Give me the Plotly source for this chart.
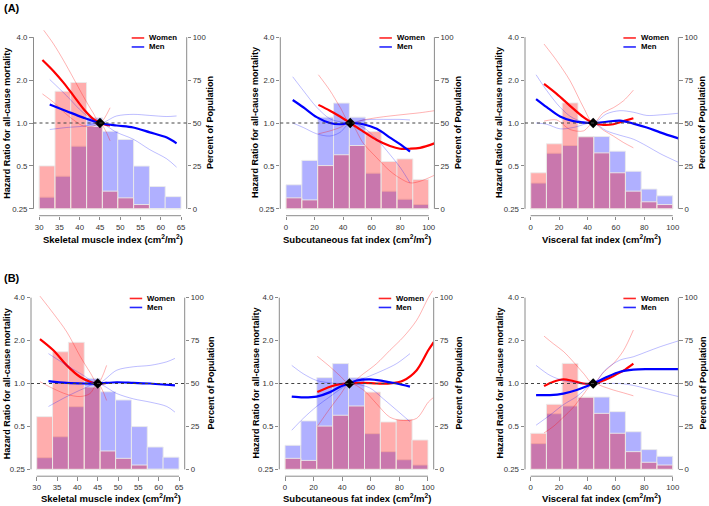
import plotly.graph_objects as go

W, H = 709, 506
FONT = "Liberation Sans, Arial, sans-serif"

# ---------------- data ----------------
SMI_EDGES = [30, 33.9, 37.8, 41.7, 45.6, 49.4, 53.3, 57.2, 61.1, 65]
FAT_EDGES = [0, 11.1, 22.2, 33.3, 44.4, 55.6, 66.7, 77.8, 88.9, 100]

SMI_WOMEN_PCT_A = [25, 68.5, 73.6, 48, 10.3, 6.4, 2.5, 0, 0]
SMI_WOMEN_PCT_B = [30.7, 68.5, 74, 48, 10.7, 6.4, 2.5, 0, 0]
SMI_MEN_PCT = [6.8, 19, 36.5, 53, 45.2, 40.4, 24.9, 13, 7.1]
SFI_WOMEN_PCT = [6.4, 5.2, 25.2, 31.5, 36.9, 45, 27.6, 29.1, 17.1]
SFI_MEN_PCT = [14, 28.2, 53.4, 61.6, 53.4, 20.8, 10.3, 5.6, 2.5]
VFI_WOMEN_PCT = [21, 37.9, 61.7, 42, 32.6, 21, 10.3, 4.1, 2.5]
VFI_MEN_PCT = [15, 32.4, 36.9, 42, 42.1, 33.6, 21.9, 11.5, 7.6]

REF_VALUES = [45, 45, 44]

# (A) Skeletal muscle index
A1_W_X = [30.8, 33.5, 36, 38.5, 41, 43.3, 45, 47.5]
A1_W_HR = [2.77, 2.32, 1.92, 1.55, 1.25, 1.07, 1.0, 0.96]
A1_W_HI = [4.6, 3.6, 2.75, 2.05, 1.52, 1.18, 1.0, 1.28]
A1_W_LO = [1.6, 1.4, 1.2, 1.05, 0.95, 0.95, 1.0, 0.75]
A1_M_X = [32.6, 36.8, 40.9, 45, 49.1, 53.2, 57.3, 61.5, 63.9]
A1_M_HR = [1.35, 1.21, 1.09, 1.0, 0.96, 0.93, 0.86, 0.79, 0.72]
A1_M_HI = [2.02, 1.55, 1.18, 1.0, 1.12, 1.15, 1.13, 1.11, 1.12]
A1_M_LO = [0.90, 0.93, 0.95, 1.0, 0.86, 0.77, 0.65, 0.56, 0.49]

# (A) Subcutaneous fat index
A2_W_X = [22.7, 30.8, 37.9, 45, 54.2, 63.6, 72.9, 79.9, 86.9, 93.9, 104]
A2_W_HR = [1.34, 1.22, 1.11, 1.0, 0.87, 0.76, 0.69, 0.66, 0.66, 0.67, 0.72]
A2_W_HI = [2.18, 1.69, 1.29, 1.0, 1.05, 1.09, 1.12, 1.14, 1.16, 1.18, 1.22]
A2_W_LO = [0.84, 0.88, 0.93, 1.0, 0.72, 0.57, 0.46, 0.41, 0.38, 0.39, 0.43]
A2_M_X = [4.7, 12.1, 21.5, 30.8, 37.9, 45, 54.2, 63.6, 72.9, 79.9, 86.9]
A2_M_HR = [1.45, 1.29, 1.10, 1.0, 0.98, 1.0, 0.98, 0.91, 0.79, 0.71, 0.63]
A2_M_HI = [2.11, 1.69, 1.29, 1.07, 1.02, 1.0, 1.05, 1.06, 1.06, 1.06, 1.05]
A2_M_LO = [1.0, 0.93, 0.84, 0.81, 0.86, 1.0, 0.93, 0.77, 0.60, 0.49, 0.38]

# (A) Visceral fat index
A3_W_X = [9.4, 18.3, 27.7, 37.1, 44, 51.2, 58.2, 65.3, 72.3]
A3_W_HR = [1.88, 1.6, 1.32, 1.10, 1.0, 0.97, 0.98, 1.03, 1.08]
A3_W_HI = [3.58, 2.74, 1.98, 1.29, 1.0, 1.18, 1.28, 1.43, 1.70]
A3_W_LO = [1.03, 1.05, 0.90, 0.88, 1.0, 0.89, 0.81, 0.73, 0.67]
A3_M_X = [3.8, 11.3, 20.7, 30, 44, 53.5, 62.9, 72.3, 81.7, 91.1, 104]
A3_M_HR = [1.47, 1.29, 1.11, 1.03, 1.0, 1.02, 1.04, 0.99, 0.93, 0.86, 0.78]
A3_M_HI = [2.18, 1.69, 1.29, 1.08, 1.0, 1.16, 1.22, 1.19, 1.13, 1.14, 1.17]
A3_M_LO = [1.0, 0.98, 0.91, 0.93, 1.0, 0.88, 0.82, 0.77, 0.69, 0.61, 0.53]

# (B) Skeletal muscle index
B1_W_X = [30.8, 34.1, 37.4, 40.7, 43.1, 45, 47.2]
B1_W_HR = [2.05, 1.71, 1.34, 1.11, 1.03, 1.0, 1.01]
B1_W_HI = [4.1, 3.1, 2.3, 1.55, 1.2, 1.0, 1.34]
B1_W_LO = [1.03, 0.92, 0.84, 0.81, 0.85, 1.0, 0.76]
B1_M_X = [32.9, 37.4, 41.5, 45, 49.7, 53.8, 57.9, 62, 64]
B1_M_HR = [1.04, 1.01, 1.0, 1.0, 1.02, 1.01, 1.0, 0.98, 0.97]
B1_M_HI = [1.62, 1.34, 1.14, 1.0, 1.24, 1.31, 1.34, 1.42, 1.5]
B1_M_LO = [0.69, 0.81, 0.92, 1.0, 0.85, 0.78, 0.74, 0.69, 0.63]

# (B) Subcutaneous fat index
B2_W_X = [22.6, 31.5, 38.5, 45, 54.8, 64.1, 73.4, 82.8, 92.1, 100.2, 104]
B2_W_HR = [0.87, 0.95, 0.99, 1.0, 1.01, 1.0, 1.0, 1.05, 1.24, 1.71, 1.95]
B2_W_HI = [1.55, 1.31, 1.13, 1.0, 1.17, 1.38, 1.71, 2.12, 2.78, 3.99, 4.6]
B2_W_LO = [0.50, 0.67, 0.83, 1.0, 0.90, 0.72, 0.58, 0.55, 0.57, 0.74, 0.8]
B2_M_X = [4.7, 12.8, 22.1, 31.5, 38.5, 45, 50.1, 59.4, 68.8, 78.1, 87.4]
B2_M_HR = [0.81, 0.80, 0.81, 0.87, 0.95, 1.0, 1.05, 1.07, 1.04, 1.0, 0.95]
B2_M_HI = [1.34, 1.17, 1.05, 1.01, 1.0, 1.0, 1.04, 1.13, 1.24, 1.38, 1.62]
B2_M_LO = [0.47, 0.57, 0.69, 0.81, 0.91, 1.0, 0.99, 0.93, 0.78, 0.65, 0.54]

# (B) Visceral fat index
B3_W_X = [9.4, 16, 23, 30, 37.1, 44, 51.2, 58.2, 65.3, 72.3]
B3_W_HR = [0.96, 1.03, 1.07, 1.04, 1.0, 1.0, 1.05, 1.13, 1.23, 1.38]
B3_W_HI = [2.15, 1.9, 1.68, 1.42, 1.18, 1.0, 1.2, 1.38, 1.7, 2.37]
B3_W_LO = [0.45, 0.5, 0.58, 0.68, 0.84, 1.0, 0.95, 0.9, 0.86, 0.82]
B3_M_X = [3.8, 13.6, 23, 32.4, 44, 53.5, 62.9, 72.3, 81.7, 91.1, 104]
B3_M_HR = [0.83, 0.83, 0.85, 0.90, 1.0, 1.11, 1.21, 1.25, 1.26, 1.26, 1.26]
B3_M_HI = [1.34, 1.14, 1.05, 1.01, 1.0, 1.27, 1.46, 1.54, 1.67, 1.81, 1.99]
B3_M_LO = [0.51, 0.6, 0.71, 0.81, 1.0, 1.0, 1.0, 0.97, 0.92, 0.87, 0.81]

HR_TICKS = [0.25, 0.5, 1, 2, 4]
HR_TICK_TEXT = ["0.25", "0.5", "1.0", "2.0", "4.0"]
PCT_TICKS = [0, 25, 50, 75, 100]
SMI_TICKS = [30, 35, 40, 45, 50, 55, 60, 65]
FAT_TICKS = [0, 20, 40, 60, 80, 100]
X_TITLES = ["Skeletal muscle index (cm<sup>2</sup>/m<sup>2</sup>)",
            "Subcutaneous fat index (cm<sup>2</sup>/m<sup>2</sup>)",
            "Visceral fat index (cm<sup>2</sup>/m<sup>2</sup>)"]

# ---------------- layout geometry (pixels) ----------------
ROW_BOX = {"A": (30.3, 215.7), "B": (290.8, 476.2)}
COL_BOX = {
    "A": [(33.5, 186.7), (280.3, 434.4), (525.0, 678.4)],
    "B": [(31.0, 184.7), (279.3, 433.7), (525.0, 678.4)],
}
HR_TITLE_X = [6.7, 255, 499]
PCT_TITLE_X = [210, 458, 702]
XTITLE_Y = {"A": 239, "B": 498}
PANEL_LABEL_Y = {"A": 7.5, "B": 278}

panels = [
    ("A", 0, SMI_EDGES, SMI_WOMEN_PCT_A, SMI_MEN_PCT, (A1_W_X, A1_W_HR, A1_W_HI, A1_W_LO), (A1_M_X, A1_M_HR, A1_M_HI, A1_M_LO)),
    ("A", 1, FAT_EDGES, SFI_WOMEN_PCT, SFI_MEN_PCT, (A2_W_X, A2_W_HR, A2_W_HI, A2_W_LO), (A2_M_X, A2_M_HR, A2_M_HI, A2_M_LO)),
    ("A", 2, FAT_EDGES, VFI_WOMEN_PCT, VFI_MEN_PCT, (A3_W_X, A3_W_HR, A3_W_HI, A3_W_LO), (A3_M_X, A3_M_HR, A3_M_HI, A3_M_LO)),
    ("B", 0, SMI_EDGES, SMI_WOMEN_PCT_B, SMI_MEN_PCT, (B1_W_X, B1_W_HR, B1_W_HI, B1_W_LO), (B1_M_X, B1_M_HR, B1_M_HI, B1_M_LO)),
    ("B", 1, FAT_EDGES, SFI_WOMEN_PCT, SFI_MEN_PCT, (B2_W_X, B2_W_HR, B2_W_HI, B2_W_LO), (B2_M_X, B2_M_HR, B2_M_HI, B2_M_LO)),
    ("B", 2, FAT_EDGES, VFI_WOMEN_PCT, VFI_MEN_PCT, (B3_W_X, B3_W_HR, B3_W_HI, B3_W_LO), (B3_M_X, B3_M_HR, B3_M_HI, B3_M_LO)),
]

WOMEN_FILL = "rgba(255,0,0,0.32)"
MEN_FILL = "rgba(0,0,255,0.31)"
BAR_EDGE = "rgba(235,235,235,0.9)"
AX_COL = "#8a8a8a"
TICK_FONT = dict(family=FONT, size=7.8, color="#333333")

L10_16 = 1.2041199826559248
HR_RANGE = [-0.6020599913 - 0.04 * L10_16, 0.6020599913 + 0.04 * L10_16]


def ax_id(letter, n):
    return letter if n == 1 else f"{letter}{n}"


def ax_key(letter, n):
    return f"{letter}axis" if n == 1 else f"{letter}axis{n}"


fig = go.Figure()
shapes, annotations = [], []
layout = {}

for i, (row, col, edges, women, men, wcurve, mcurve) in enumerate(panels, start=1):
    x0p, x1p = COL_BOX[row][col]
    y0p, y1p = ROW_BOX[row]
    xmin, xmax = edges[0], edges[-1]
    pad = 0.04 * (xmax - xmin)
    xa = ax_id("x", i)
    yb = ax_id("y", 2 * i - 1)   # percent (base)
    yh = ax_id("y", 2 * i)       # hazard ratio (overlay, log)
    ticks_x = SMI_TICKS if col == 0 else FAT_TICKS

    layout[ax_key("x", i)] = dict(
        domain=[x0p / W, x1p / W], range=[xmin - pad, xmax + pad], anchor=yb,
        tickvals=ticks_x, ticks="outside", ticklen=3.5, tickcolor=AX_COL, tickwidth=1,
        showline=False, showgrid=False, zeroline=False, tickfont=TICK_FONT,
    )
    layout[ax_key("y", 2 * i - 1)] = dict(
        domain=[1 - y1p / H, 1 - y0p / H], range=[-4, 104], side="right", anchor=xa,
        tickvals=PCT_TICKS, ticks="outside", ticklen=3.5, tickcolor=AX_COL,
        showline=False, showgrid=False, zeroline=False, tickfont=TICK_FONT,
    )
    layout[ax_key("y", 2 * i)] = dict(
        type="log", overlaying=yb, side="left", anchor=xa, range=HR_RANGE,
        tickvals=HR_TICKS, ticktext=HR_TICK_TEXT, ticks="outside", ticklen=3.5,
        tickcolor=AX_COL, showline=False, showgrid=False, zeroline=False, tickfont=TICK_FONT,
    )

    centers = [(a + b) / 2 for a, b in zip(edges[:-1], edges[1:])]
    widths = [b - a for a, b in zip(edges[:-1], edges[1:])]
    for vals, fill, name in ((men, MEN_FILL, "Men"), (women, WOMEN_FILL, "Women")):
        fig.add_trace(go.Bar(
            x=centers, y=vals, width=widths, xaxis=xa, yaxis=yb, name=name,
            marker=dict(color=fill, line=dict(color=BAR_EDGE, width=1)),
            showlegend=False, hoverinfo="skip",
        ))

    for (cx, hr, hi, lo), solid, ci in (
        (wcurve, "rgb(255,0,0)", "rgba(255,0,0,0.3)"),
        (mcurve, "rgb(0,0,255)", "rgba(0,0,255,0.26)"),
    ):
        for ys in (hi, lo):
            fig.add_trace(go.Scatter(
                x=cx, y=ys, mode="lines", xaxis=xa, yaxis=yh, showlegend=False,
                line=dict(color=ci, width=1, shape="spline", smoothing=0.9), hoverinfo="skip",
            ))
        fig.add_trace(go.Scatter(
            x=cx, y=hr, mode="lines", xaxis=xa, yaxis=yh, showlegend=False,
            line=dict(color=solid, width=2.2, shape="spline", smoothing=0.9),
        ))

    fig.add_trace(go.Scatter(
        x=[REF_VALUES[col]], y=[1], mode="markers", xaxis=xa, yaxis=yh, showlegend=False,
        marker=dict(symbol="diamond", size=8, color="black"),
    ))

    # axis lines (R style)
    line = dict(color=AX_COL, width=1)
    shapes.append(dict(type="line", xref=f"{xa} domain", x0=0, x1=0, yref=yb, y0=0, y1=100, line=line))
    shapes.append(dict(type="line", xref=f"{xa} domain", x0=1, x1=1, yref=yb, y0=0, y1=100, line=line))
    shapes.append(dict(type="line", xref=xa, x0=xmin, x1=xmax, yref=f"{yb} domain", y0=0, y1=0, line=line))
    # HR = 1 reference (50 % on the aligned percent axis)
    shapes.append(dict(type="line", xref=f"{xa} domain", x0=0, x1=1, yref=yb, y0=50, y1=50,
                       line=dict(color="#444444", width=1, dash="dot")))

    # legend
    top_tick = y0p + 0.04 / 1.08 * (y1p - y0p)
    for k, (lab, colr) in enumerate((("Women", "rgba(255,0,0,0.85)"), ("Men", "rgba(0,0,255,0.85)"))):
        ly = top_tick + 0.8 + 9 * k
        shapes.append(dict(type="line", xref="paper", yref="paper",
                           x0=(x1p - 55) / W, x1=(x1p - 42.5) / W, y0=1 - ly / H, y1=1 - ly / H,
                           line=dict(color=colr, width=1.6)))
        annotations.append(dict(text=f"<b>{lab}</b>", xref="paper", yref="paper",
                                x=(x1p - 39.5) / W, y=1 - ly / H, xanchor="left", yanchor="middle",
                                showarrow=False, font=dict(family=FONT, size=7.8, color="black")))

    # titles
    ymid = (y0p + y1p) / 2
    annotations.append(dict(text="<b>Hazard Ratio for all-cause mortality</b>", textangle=-90,
                            xref="paper", yref="paper", x=HR_TITLE_X[col] / W, y=1 - ymid / H,
                            xanchor="center", yanchor="middle", showarrow=False,
                            font=dict(family=FONT, size=9, color="black")))
    annotations.append(dict(text="<b>Percent of Population</b>", textangle=-90,
                            xref="paper", yref="paper", x=PCT_TITLE_X[col] / W, y=1 - ymid / H,
                            xanchor="center", yanchor="middle", showarrow=False,
                            font=dict(family=FONT, size=9, color="black")))
    annotations.append(dict(text=f"<b>{X_TITLES[col]}</b>", xref="paper", yref="paper",
                            x=((x0p + x1p) / 2 + (3 if col == 0 else 0)) / W, y=1 - XTITLE_Y[row] / H,
                            xanchor="center", yanchor="middle", showarrow=False,
                            font=dict(family=FONT, size=9.5, color="black")))

for row in ("A", "B"):
    annotations.append(dict(text=f"<b>({row})</b>", xref="paper", yref="paper",
                            x=1.5 / W, y=1 - PANEL_LABEL_Y[row] / H, xanchor="left", yanchor="middle",
                            showarrow=False, font=dict(family=FONT, size=11, color="black")))

fig.update_layout(
    width=W, height=H, margin=dict(l=0, r=0, t=0, b=0),
    paper_bgcolor="white", plot_bgcolor="rgba(0,0,0,0)",
    barmode="overlay", bargap=0, showlegend=False, hovermode=False,
    shapes=shapes, annotations=annotations, **layout,
)

fig.write_html(
    "out.html",
    config={"displayModeBar": False, "staticPlot": True},
    post_script="document.body.style.margin='0px';document.body.style.overflow='hidden';",
)
